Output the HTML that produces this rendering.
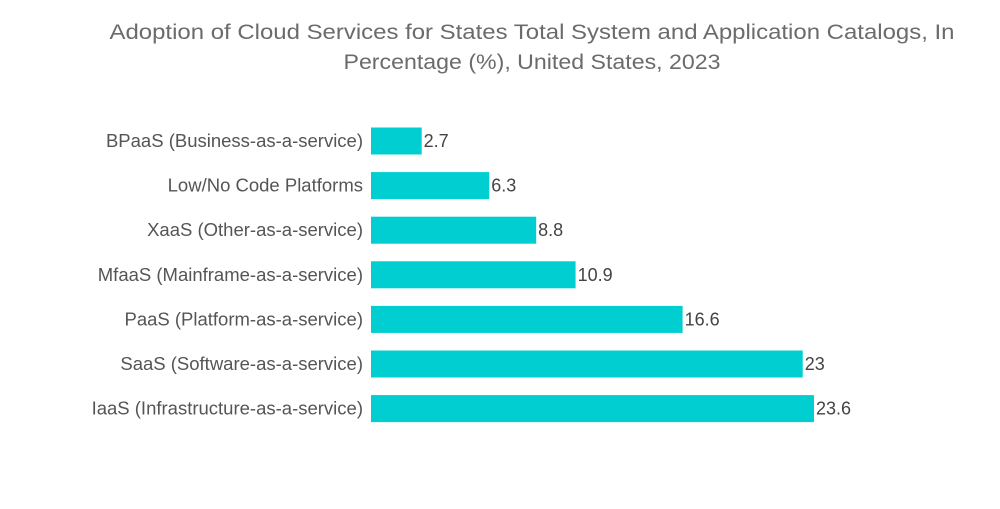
<!DOCTYPE html>
<html><head><meta charset="utf-8"><style>
body{margin:0;background:#fff;width:1000px;height:504px;overflow:hidden;font-family:"Liberation Sans",sans-serif}
</style></head><body>
<svg width="1000" height="504">
<text x="532" y="39" text-anchor="middle" font-size="21" fill="#6b6b6b" textLength="845" lengthAdjust="spacingAndGlyphs">Adoption of Cloud Services for States Total System and Application Catalogs, In</text>
<text x="532" y="69" text-anchor="middle" font-size="21" fill="#6b6b6b" textLength="377" lengthAdjust="spacingAndGlyphs">Percentage (%), United States, 2023</text>
<g id="bars"></g>
</svg>
<script>
const categories=["BPaaS (Business-as-a-service)","Low/No Code Platforms","XaaS (Other-as-a-service)","MfaaS (Mainframe-as-a-service)","PaaS (Platform-as-a-service)","SaaS (Software-as-a-service)","IaaS (Infrastructure-as-a-service)"];
const values=[2.7,6.3,8.8,10.9,16.6,23,23.6];
const labels=["2.7","6.3","8.8","10.9","16.6","23","23.6"];
const NS="http://www.w3.org/2000/svg";
const g=document.getElementById('bars');
const x=v=>371+v*18.77;
const y=i=>141+i*44.6;
categories.forEach((c,i)=>{
 const r=document.createElementNS(NS,'rect');
 r.setAttribute('x',371);r.setAttribute('y',y(i)-13.5);
 r.setAttribute('width',x(values[i])-371);r.setAttribute('height',27);
 r.setAttribute('fill','#00ced1');
 
 
 g.appendChild(r);
 const t=document.createElementNS(NS,'text');
 t.setAttribute('x',363);t.setAttribute('y',y(i)+6);t.setAttribute('text-anchor','end');
 t.setAttribute('font-size','18.5');t.setAttribute('fill','#555');
 t.textContent=c;
 
 
 g.appendChild(t);
 const v=document.createElementNS(NS,'text');
 v.setAttribute('x',x(values[i])+2);v.setAttribute('y',y(i)+6);
 v.setAttribute('font-size','18');v.setAttribute('fill','#444');
 v.textContent=labels[i];
 
 
 g.appendChild(v);
});
</script>
</body></html>
